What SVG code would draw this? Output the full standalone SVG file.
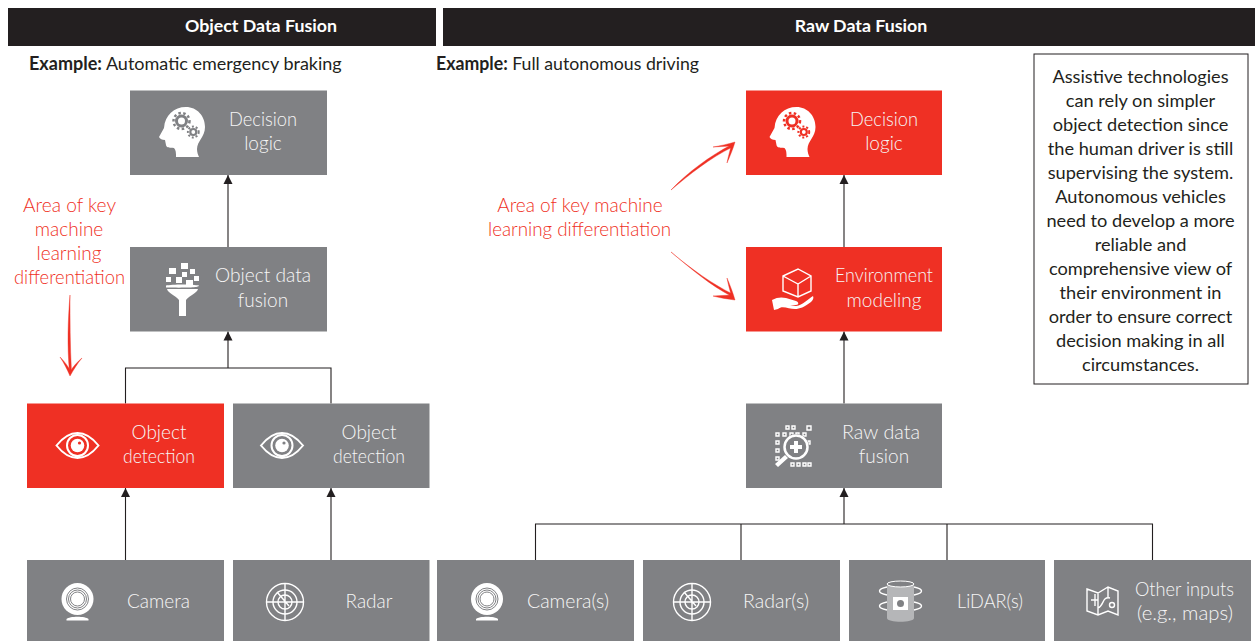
<svg xmlns="http://www.w3.org/2000/svg" width="1255" height="641" viewBox="0 0 1255 641">
<style>
text{font-family:"Lato","Open Sans","Liberation Sans",sans-serif;font-weight:300;font-size:19px;text-anchor:middle}
.b{fill:#808184}.r{fill:#ef3024}
.w{fill:#f6f6f6}.rt{fill:#ef3024}
.h{fill:#fff;font-weight:700;font-size:17.800px}
.e{fill:#231f20;font-size:18px;font-weight:400;text-anchor:start}
.e tspan{font-weight:700}
.n{fill:#231f20;font-size:18.200px;font-weight:400}
.c{fill:none;stroke:#231f20;stroke-width:1.100}
.i{fill:#fff;stroke:none}
.o{fill:none;stroke:#fff;stroke-width:1.400}
.a{fill:#ef3024;stroke:#ef3024;stroke-width:.4;stroke-linejoin:round}
.g1{fill:none;stroke:currentColor;stroke-width:3}
.g2{fill:none;stroke:currentColor;stroke-width:2.500;stroke-dasharray:2.500 2.400}
</style>
<defs>
<marker id="ah" markerWidth="10" markerHeight="10" refX="9" refY="5" orient="auto" markerUnits="userSpaceOnUse"><path d="M0 .5L9 5L0 9.500z" fill="#231f20"/></marker>
<g id="head"><path class="i" d="M0 30L5 21C6 8 15 0 27 0C38 0 46 9 46 20C46 30 38 34 38 42C38 45 39 48 40 50H17C17 46 17 43 15 41C12 40 8 42 7 38L6 33C3 33 1 32 0 30z"/>
<circle class="g1" cx="22.500" cy="14" r="5"/><circle class="g2" cx="22.500" cy="14" r="8"/>
<circle class="g1" style="stroke-width:2.200" cx="34.300" cy="25" r="3"/><circle class="g2" style="stroke-width:2;stroke-dasharray:2 1.900" cx="34.300" cy="25" r="5.400"/></g>
<g id="eye"><path class="o" style="stroke-width:2" d="M-21 0C-13-10-6-12.500 0-12.500S13-10 21 0C13 10 6 12.500 0 12.500S-13 10-21 0z"/><circle class="o" style="stroke-width:2" r="10.500"/><circle class="i" r="6.800"/><circle r="1.600" cx="2" cy="-2.500" fill="currentColor"/></g>
<g id="cam"><circle class="i" cx="0" cy="-3" r="16"/><circle r="11" cy="-3" fill="none" stroke="#808184" stroke-width="1"/><circle r="9" cy="-3" fill="none" stroke="#808184" stroke-width="1"/><circle r="7" cy="-3" fill="none" stroke="#808184" stroke-width="1"/><path class="i" d="M-11 17c3-3 19-3 22 0v1.500h-22z"/></g>
<g id="radar"><circle class="o" r="18.500"/><circle class="o" r="12"/><circle class="o" r="7"/><path class="o" d="M-18 0H18M0-18V18M-8-10L4 4"/></g>
</defs>

<rect x="8" y="8" width="428" height="38" fill="#231f20"/>
<rect x="443" y="8" width="812" height="38" fill="#231f20"/>
<text class="h" x="261" y="32">Object Data Fusion</text>
<text class="h" x="861" y="32">Raw Data Fusion</text>
<text class="e" x="29" y="70"><tspan>Example:</tspan> Automatic emergency braking</text>
<text class="e" x="436" y="70" textLength="263" lengthAdjust="spacingAndGlyphs"><tspan>Example:</tspan> Full autonomous driving</text>

<g id="connectors">
<path class="c" marker-end="url(#ah)" d="M228 247V175"/>
<path class="c" marker-end="url(#ah)" d="M228 368V331.500"/>
<path class="c" d="M125.500 403.500V368H331V403.500"/>
<path class="c" marker-end="url(#ah)" d="M125.500 560V488"/>
<path class="c" marker-end="url(#ah)" d="M331 560V488"/>
<path class="c" marker-end="url(#ah)" d="M844 247V175"/>
<path class="c" marker-end="url(#ah)" d="M844 403.500V331.500"/>
<path class="c" marker-end="url(#ah)" d="M844 524V488"/>
<path class="c" d="M535.500 560V524H1152.500V560M741 524V560M947 524V560"/>
</g>

<g id="note"><rect x="1034" y="54" width="214" height="330" fill="#fff" stroke="#231f20" stroke-width="1"/>
<text class="n" x="1140.500" y="83">Assistive technologies</text>
<text class="n" x="1140.500" y="107">can rely on simpler</text>
<text class="n" x="1140.500" y="131">object detection since</text>
<text class="n" x="1140.500" y="155">the human driver is still</text>
<text class="n" x="1140.500" y="179">supervising the system.</text>
<text class="n" x="1140.500" y="203">Autonomous vehicles</text>
<text class="n" x="1140.500" y="227">need to develop a more</text>
<text class="n" x="1140.500" y="251">reliable and</text>
<text class="n" x="1140.500" y="275">comprehensive view of</text>
<text class="n" x="1140.500" y="299">their environment in</text>
<text class="n" x="1140.500" y="323">order to ensure correct</text>
<text class="n" x="1140.500" y="347">decision making in all</text>
<text class="n" x="1140.500" y="371">circumstances.</text></g>

<g id="annot-left">
<text class="rt" x="69.500" y="212" textLength="93" lengthAdjust="spacingAndGlyphs">Area of key</text><text class="rt" x="69" y="236">machine</text><text class="rt" x="69" y="260">learning</text><text class="rt" x="69.500" y="284" textLength="111" lengthAdjust="spacingAndGlyphs">differentiation</text>
<path class="a" d="M70 295C68 320 67 345 69.500 372L71.500 372C70 345 70 320 70 295z"/>
<path class="a" d="M60 357C64 363 67 369 70 376C74 369 77 364 82 358C77 362 73 367 70.500 371C68 366 64 361 60 357z"/>
</g>
<g id="annot-right">
<text class="rt" x="580" y="212">Area of key machine</text><text class="rt" x="579.500" y="236" textLength="183" lengthAdjust="spacingAndGlyphs">learning differentiation</text>
<path class="a" d="M671 190C688 172 710 156 731 145L732.500 147C710 158 690 174 671 190z"/>
<path class="a" d="M713 147C720 146 728 144 735 142C733 149 730 156 727 163C728 157 730 151 731 146C725 146 719 147 713 147z"/>
<path class="a" d="M671 252C690 268 710 285 731 296L732.500 294C712 284 690 268 671 252z"/>
<path class="a" d="M713 296C720 298 728 299 735 300C733 293 730 285 727 278C728 284 730 290 731 295C725 295 719 296 713 296z"/>
</g>

<g id="n-decision-l" style="color:#808184"><rect class="b" x="130" y="90.500" width="197" height="84.500"/><use href="#head" x="159" y="107"/>
<text class="w" x="263" y="126" textLength="68" lengthAdjust="spacingAndGlyphs">Decision</text><text class="w" x="263" y="150">logic</text></g>
<g id="n-fusion-l"><rect class="b" x="130" y="247" width="197" height="84.500"/>
<path class="i" d="M166 285.500C172 284 193 284 199 285.500C199 287 194 288 166 287.500zM167 289H198C197 293 190 295 186 300V316H179V300C175 295 168 293 167 289z"/>
<path class="i" d="M169 268h7v6h-7zM181 263h7v6h-7zM190 269h5v5h-5zM166 277h5v5h-5zM176 277h6v6h-6zM182 272h5v5h-5zM186 280h7v6h-7zM194 276h5v5h-5z"/>
<text class="w" x="263" y="282" textLength="96" lengthAdjust="spacingAndGlyphs">Object data</text><text class="w" x="263" y="307">fusion</text></g>
<g id="n-detect-red" style="color:#ef3024"><rect class="r" x="27" y="403.500" width="197" height="84.500"/><use href="#eye" x="77.500" y="445.500"/>
<text class="w" x="159" y="439">Object</text><text class="w" x="159" y="463" textLength="72" lengthAdjust="spacingAndGlyphs">detection</text></g>
<g id="n-detect-gray" style="color:#808184"><rect class="b" x="233" y="403.500" width="196.500" height="84.500"/><use href="#eye" x="282" y="445.500"/>
<text class="w" x="369" y="439">Object</text><text class="w" x="369" y="463" textLength="72" lengthAdjust="spacingAndGlyphs">detection</text></g>
<g id="n-camera"><rect class="b" x="27" y="560" width="197" height="81"/><use href="#cam" x="77.500" y="602"/><text class="w" x="158.500" y="608">Camera</text></g>
<g id="n-radar"><rect class="b" x="233" y="560" width="196.500" height="81"/><use href="#radar" x="285" y="602"/><text class="w" x="369" y="608">Radar</text></g>

<g id="n-decision-r" style="color:#ef3024"><rect class="r" x="746" y="90.500" width="196" height="84.500"/><use href="#head" x="769.500" y="107"/>
<text class="w" x="884" y="126" textLength="68" lengthAdjust="spacingAndGlyphs">Decision</text><text class="w" x="884" y="150">logic</text></g>
<g id="n-env"><rect class="r" x="746" y="247" width="196" height="84.500"/>
<path class="o" d="M783 276L798 269L811 276V291L798 297L783 291zM783 276L798 284L811 276M798 284V297"/>
<path class="i" d="M772 300C777 297 782 297 786 298L796 301C799 302 799 305 796 305H790L796 306C803 305 808 299 813 296C814 298 813 300 811 302C804 307 800 309 795 309C789 309 782 305 778 309L774 310z"/>
<text class="w" x="884" y="282" textLength="98" lengthAdjust="spacingAndGlyphs">Environment</text><text class="w" x="884" y="307">modeling</text></g>
<g id="n-rawfusion"><rect class="b" x="746" y="403.500" width="196" height="84.500"/>
<path class="o" d="M786 426h3v3h-3zM792 426h3v3h-3zM807 426h4v4h-4zM776 433h3v3h-3zM783 433h3v3h-3zM790 433h3v3h-3zM796 433h3v3h-3zM803 433h3v3h-3zM776 441h3v3h-3zM776 449h3v3h-3zM776 457h3v3h-3zM791 463h3v3h-3zM797 463h3v3h-3zM803 463h3v3h-3zM808 463h3v3h-3zM808 441h2v3h-2z"/>
<circle cx="796" cy="447" r="13" fill="#808184"/>
<circle class="o" style="stroke-width:2.500" cx="796" cy="447" r="11.500"/>
<path class="i" d="M794 441h4v4h4v4h-4v4h-4v-4h-4v-4h4zM785 455l3 3l-10 9l-3-3z"/>
<text class="w" x="881" y="439" textLength="78" lengthAdjust="spacingAndGlyphs">Raw data</text><text class="w" x="884" y="463">fusion</text></g>
<g id="n-cameras"><rect class="b" x="437" y="560" width="197" height="81"/><use href="#cam" x="487" y="602"/><text class="w" x="568" y="608" textLength="82" lengthAdjust="spacingAndGlyphs">Camera(s)</text></g>
<g id="n-radars"><rect class="b" x="643" y="560" width="197" height="81"/><use href="#radar" x="692" y="602"/><text class="w" x="776" y="608" textLength="66" lengthAdjust="spacingAndGlyphs">Radar(s)</text></g>
<g id="n-lidar"><rect class="b" x="849" y="560" width="196" height="81"/>
<path d="M887 584C887 580 914 580 914 584V618C914 623 887 623 887 618z" fill="#b5b6b8"/>
<ellipse cx="900.500" cy="584" rx="13.500" ry="3" fill="#808184" stroke="#fff"/>
<rect class="i" x="893" y="597" width="15" height="13"/><circle cx="900.500" cy="603.500" r="3.500" fill="#808184"/>
<path class="o" d="M887 587C877 589 877 593 887 595M914 587C924 589 924 593 914 595M887 602C877 604 877 608 887 610M914 602C924 604 924 608 914 610"/>
<text class="w" x="990" y="608" textLength="66" lengthAdjust="spacingAndGlyphs">LiDAR(s)</text></g>
<g id="n-other"><rect class="b" x="1054" y="560" width="197" height="81"/>
<path class="o" d="M1087 589L1098 593L1108 587L1118 591V615L1108 611L1098 615L1087 611zM1098 593V615M1108 587V597M1091 600H1098M1095 594V606M1098 608C1104 606 1102 596 1110 598"/>
<circle class="o" cx="1112" cy="605" r="2.500"/>
<text class="w" x="1184.500" y="596" textLength="99" lengthAdjust="spacingAndGlyphs">Other inputs</text><text class="w" x="1185" y="620" textLength="96" lengthAdjust="spacingAndGlyphs">(e.g., maps)</text></g>
</svg>
